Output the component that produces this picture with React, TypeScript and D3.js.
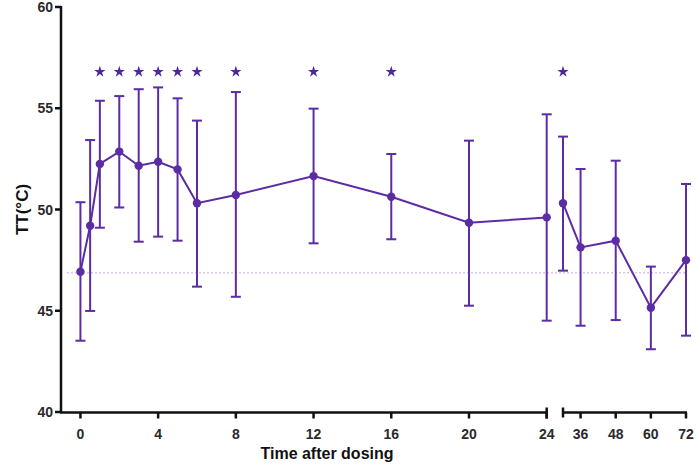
import React from "react";
import * as d3 from "d3";

const times = [0, 0.5, 1, 2, 3, 4, 5, 6, 8, 12, 16, 20, 24, 30, 36, 48, 60, 72];
const means = [46.93, 49.2, 52.25, 52.86, 52.16, 52.36, 51.98, 50.31, 50.72, 51.65, 50.63, 49.35, 49.61, 50.31, 48.13, 48.46, 45.15, 47.5];
const upper = [50.36, 53.43, 55.37, 55.6, 55.94, 56.03, 55.49, 54.39, 55.8, 54.98, 52.74, 53.4, 54.7, 53.6, 52.0, 52.41, 47.18, 51.26];
const lower = [43.52, 44.99, 49.1, 50.1, 48.41, 48.66, 48.46, 46.19, 45.69, 48.33, 48.53, 45.25, 44.51, 46.98, 44.26, 44.54, 43.1, 43.77];
const starTimes = [1, 2, 3, 4, 5, 6, 8, 12, 16, 30];
const ticks1 = [0, 4, 8, 12, 16, 20, 24];
const ticks2 = [36, 48, 60, 72];
const yTicks = [40, 45, 50, 55, 60];
const baseline = 46.88;
const starLevel = 56.8;

const PURPLE = "#5b2ca3";
const FONT = "'Liberation Sans', Arial, sans-serif";

export default function App() {
  const y = d3.scaleLinear().domain([40, 60]).range([412, 7]);
  const x1 = d3.scaleLinear().domain([-1, 24]).range([61, 546.7]);
  const x2 = d3.scaleLinear().domain([30, 72]).range([563, 686]);
  const xp = (t: number) => (t <= 24 ? x1(t) : x2(t));
  const axisY = 412.5;

  const idx1 = times.map((t, i) => i).filter((i) => times[i] <= 24);
  const idx2 = times.map((t, i) => i).filter((i) => times[i] > 24);
  const line = d3
    .line<number>()
    .x((i) => xp(times[i]))
    .y((i) => y(means[i]));

  const starPath = d3.symbol().type(d3.symbolStar).size(40)();

  return (
    <svg width={697} height={466} style={{ position: "absolute", left: 0, top: 0, background: "#fff" }}>
      {/* baseline dotted */}
      <line x1={67} x2={685} y1={y(baseline)} y2={y(baseline)} stroke="#dcc6ec" strokeWidth={1.5} strokeDasharray="2,2" />

      {/* y axis */}
      <line x1={61} x2={61} y1={y(60) - 1} y2={axisY} stroke="#111" strokeWidth={2.5} />
      {yTicks.map((v) => (
        <g key={v}>
          <line x1={55} x2={61} y1={y(v)} y2={y(v)} stroke="#111" strokeWidth={2.5} />
          <text x={53} y={y(v)} dy="0.36em" textAnchor="end" fontFamily={FONT} fontWeight="bold" fontSize={14} fill="#2a2a2a">
            {v}
          </text>
        </g>
      ))}

      {/* x axis segment 1 */}
      <line x1={60} x2={x1(24) + 1} y1={axisY} y2={axisY} stroke="#111" strokeWidth={2.5} />
      <line x1={x1(24)} x2={x1(24)} y1={axisY - 5} y2={axisY + 6} stroke="#111" strokeWidth={2.5} />
      {ticks1.map((t) => (
        <g key={t}>
          <line x1={x1(t)} x2={x1(t)} y1={axisY} y2={axisY + 6} stroke="#111" strokeWidth={2.5} />
          <text x={x1(t)} y={439} textAnchor="middle" fontFamily={FONT} fontWeight="bold" fontSize={14} fill="#2a2a2a">
            {t}
          </text>
        </g>
      ))}
      {/* x axis segment 2 */}
      <line x1={x2(30)} x2={x2(72) + 1} y1={axisY} y2={axisY} stroke="#111" strokeWidth={2.5} />
      <line x1={x2(30)} x2={x2(30)} y1={axisY - 5} y2={axisY + 5} stroke="#111" strokeWidth={2.5} />
      {ticks2.map((t) => (
        <g key={t}>
          <line x1={x2(t)} x2={x2(t)} y1={axisY} y2={axisY + 6} stroke="#111" strokeWidth={2.5} />
          <text x={x2(t)} y={439} textAnchor="middle" fontFamily={FONT} fontWeight="bold" fontSize={14} fill="#2a2a2a">
            {t}
          </text>
        </g>
      ))}

      {/* axis titles */}
      <text x={327} y={459} textAnchor="middle" fontFamily={FONT} fontWeight="bold" fontSize={16} fill="#111">
        Time after dosing
      </text>
      <text transform={`translate(28,${y(50)}) rotate(-90)`} textAnchor="middle" fontFamily={FONT} fontWeight="bold" fontSize={17} fill="#111">
        TT(°C)
      </text>

      {/* error bars */}
      {times.map((t, i) => (
        <g key={"e" + i} stroke={PURPLE} strokeWidth={2}>
          <line x1={xp(t)} x2={xp(t)} y1={y(upper[i])} y2={y(lower[i])} />
          <line x1={xp(t) - 5} x2={xp(t) + 5} y1={y(upper[i])} y2={y(upper[i])} />
          <line x1={xp(t) - 5} x2={xp(t) + 5} y1={y(lower[i])} y2={y(lower[i])} />
        </g>
      ))}

      {/* lines */}
      <path d={line(idx1) || ""} fill="none" stroke={PURPLE} strokeWidth={2} />
      <path d={line(idx2) || ""} fill="none" stroke={PURPLE} strokeWidth={2} />

      {/* points */}
      {times.map((t, i) => (
        <circle key={"p" + i} cx={xp(t)} cy={y(means[i])} r={4.2} fill={PURPLE} />
      ))}

      {/* stars */}
      {starTimes.map((t) => (
        <path key={"s" + t} d={starPath || ""} transform={`translate(${xp(t)},${y(starLevel)})`} fill="#4a2a9c" />
      ))}
    </svg>
  );
}
